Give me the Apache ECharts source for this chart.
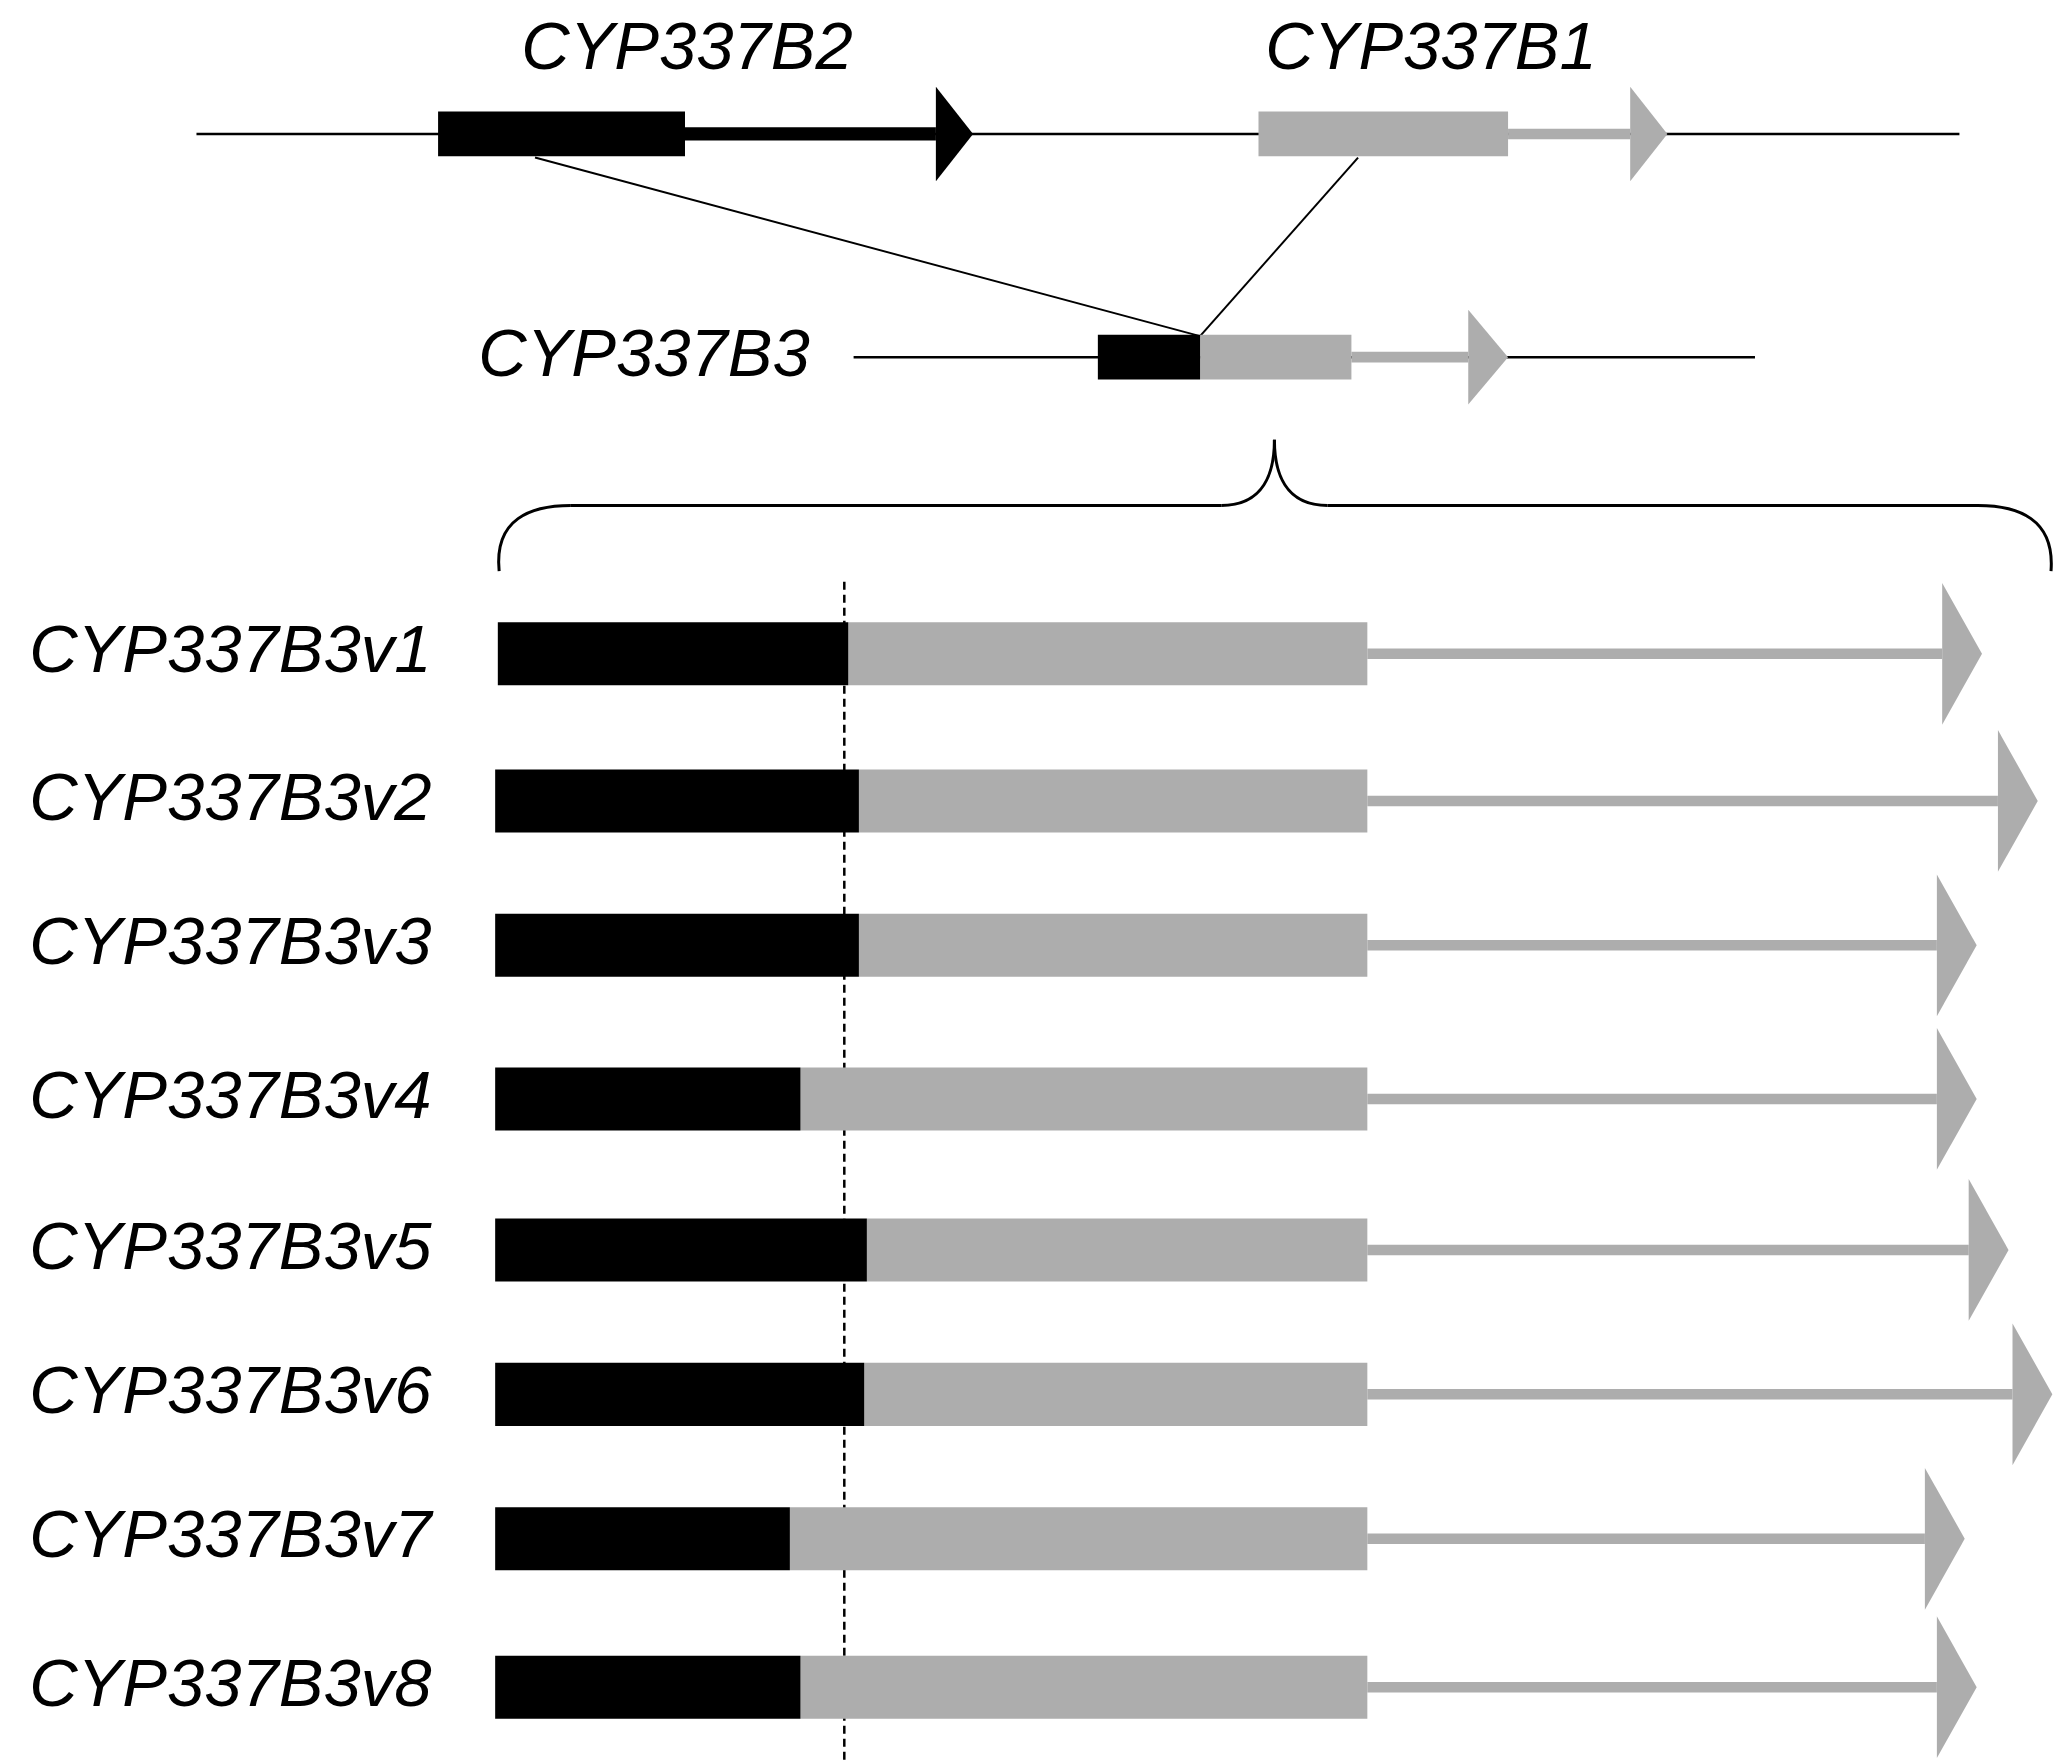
<!DOCTYPE html>
<html><head><meta charset="utf-8">
<script src="https://cdn.jsdelivr.net/npm/echarts@6/dist/echarts.min.js"></script>
<style>html,body{margin:0;padding:0;background:#fff}#c{width:2055px;height:1762px}</style>
</head><body><div id="c"></div>
<script>
// Variant transcripts (reference coordinate units)
const variants = ['CYP337B3v1','CYP337B3v2','CYP337B3v3','CYP337B3v4','CYP337B3v5','CYP337B3v6','CYP337B3v7','CYP337B3v8'];
const variantStart = [375,373,373,373,373,373,373,373];
const variantBlackEnd = [639,647,647,603,653,651,595,603];
const variantGrayEnd = [1030,1030,1030,1030,1030,1030,1030,1030];
const variantTip = [1493,1535,1489,1489,1513,1546,1480,1489];
const variantY = [498,610,720,837,952,1062,1172,1285];
// Genomic genes
const geneNames = ['CYP337B2','CYP337B1','CYP337B3'];
const geneBoxStart = [330,948,827];
const geneBoxEnd = [516,1136,904];
const geneGrayEnd = [516,1136,1018];
const geneLineEnd = [705,1228,1106];
const geneTip = [733,1256,1136];
const geneY = [102,102,272];
const geneBoxColor = ['#000','#adadad','#000'];
const geneColor = ['#000','#adadad','#adadad'];

const GRAY='#adadad';
const FONT='"Liberation Sans", Arial, sans-serif';

function variantItem(params, api){
  const i = params.dataIndex;
  const y = variantY[i];
  const c = (x,yy)=>api.coord([x,yy]);
  const p0=c(variantStart[i],y-24), p1=c(variantBlackEnd[i],y+24), p2=c(variantGrayEnd[i],y+24);
  const l0=c(variantGrayEnd[i],y-4), l1=c(variantTip[i]-30,y+4);
  const a0=c(variantTip[i]-30,y-54), a1=c(variantTip[i],y), a2=c(variantTip[i]-30,y+54);
  const lab=c(325,y);
  return {type:'group',children:[
    {type:'rect',shape:{x:p1[0],y:p0[1],width:p2[0]-p1[0],height:p1[1]-p0[1]},style:{fill:GRAY}},
    {type:'rect',shape:{x:p0[0],y:p0[1],width:p1[0]-p0[0],height:p1[1]-p0[1]},style:{fill:'#000'}},
    {type:'rect',shape:{x:l0[0],y:l0[1],width:l1[0]-l0[0],height:l1[1]-l0[1]},style:{fill:GRAY}},
    {type:'polygon',shape:{points:[a0,a1,a2]},style:{fill:GRAY}},
    {type:'text',x:lab[0],y:lab[1],style:{text:variants[i],font:'italic 67px '+FONT,fill:'#000',align:'right',verticalAlign:'middle'}}
  ]};
}
function geneItem(params, api){
  const i = params.dataIndex;
  const y = geneY[i], col=geneColor[i];
  const c = (x,yy)=>api.coord([x,yy]);
  const h = 17;
  const b0=c(geneBoxStart[i],y-h), b1=c(geneBoxEnd[i],y+h), g1=c(geneGrayEnd[i],y+h);
  const lt = i===0?5:4;
  const l0=c(geneGrayEnd[i],y-lt), l1=c(geneLineEnd[i],y+lt);
  const a0=c(geneLineEnd[i],y-36), a1=c(geneTip[i],y), a2=c(geneLineEnd[i],y+36);
  const ch=[
    {type:'rect',shape:{x:b1[0],y:b0[1],width:g1[0]-b1[0],height:g1[1]-b0[1]},style:{fill:GRAY}},
    {type:'rect',shape:{x:b0[0],y:b0[1],width:b1[0]-b0[0],height:b1[1]-b0[1]},style:{fill:geneBoxColor[i]}},
    {type:'rect',shape:{x:l0[0],y:l0[1],width:l1[0]-l0[0],height:l1[1]-l0[1]},style:{fill:col}},
    {type:'polygon',shape:{points:[a0,a1,a2]},style:{fill:col}}
  ];
  let lab, align='center';
  if(i===2){lab=c(610,y);align='right';}
  else lab=c((geneBoxStart[i]+geneLineEnd[i])/2-(i===0?0:10),38);
  ch.push({type:'text',x:lab[0],y:lab[1],style:{text:geneNames[i],font:'italic 67px '+FONT,fill:'#000',align:align,verticalAlign:'middle'}});
  return {type:'group',children:ch};
}
function decorItem(params, api){
  const c=(x,y)=>api.coord([x,y]);
  const ls={stroke:'#000',lineWidth:3,fill:null};
  const line=(a,b,w,dash)=>({type:'line',shape:{x1:a[0],y1:a[1],x2:b[0],y2:b[1]},style:{stroke:'#000',lineWidth:w,lineDash:dash||null}});
  const bz=(p1,cp1,cp2,p2)=>{const a=c(...p1),b=c(...cp1),d=c(...cp2),e=c(...p2);
    return {type:'bezierCurve',shape:{x1:a[0],y1:a[1],cpx1:b[0],cpy1:b[1],cpx2:d[0],cpy2:d[1],x2:e[0],y2:e[1]},style:ls};};
  return {type:'group',children:[
    line(c(148,102),c(1476,102),2.5),
    line(c(643,272),c(1322,272),2.5),
    line(c(403,120),c(904,256),2),
    line(c(1023,120),c(904,256),2),
    line(c(636,443),c(636,1342),2.5,[8,5]),
    bz([376,435],[372,395],[400,385],[430,385]),
    line(c(430,385),c(920,385),3),
    bz([920,385],[952,385],[960,360],[960,335]),
    bz([960,335],[960,360],[968,385],[1000,385]),
    line(c(1000,385),c(1490,385),3),
    bz([1490,385],[1520,385],[1548,395],[1545,435])
  ]};
}
const chart=echarts.init(document.getElementById('c'));
chart.setOption({
  animation:false,
  grid:{left:0,right:0,top:0,bottom:0},
  xAxis:{type:'value',min:0,max:1548,show:false},
  yAxis:{type:'value',min:0,max:1342,inverse:true,show:false},
  series:[
    {type:'custom',renderItem:decorItem,data:[0],clip:false},
    {type:'custom',renderItem:geneItem,data:geneNames.map((n,i)=>[geneBoxStart[i],geneY[i]]),clip:false},
    {type:'custom',renderItem:variantItem,data:variants.map((n,i)=>[variantStart[i],variantY[i]]),clip:false}
  ]
});
</script></body></html>
